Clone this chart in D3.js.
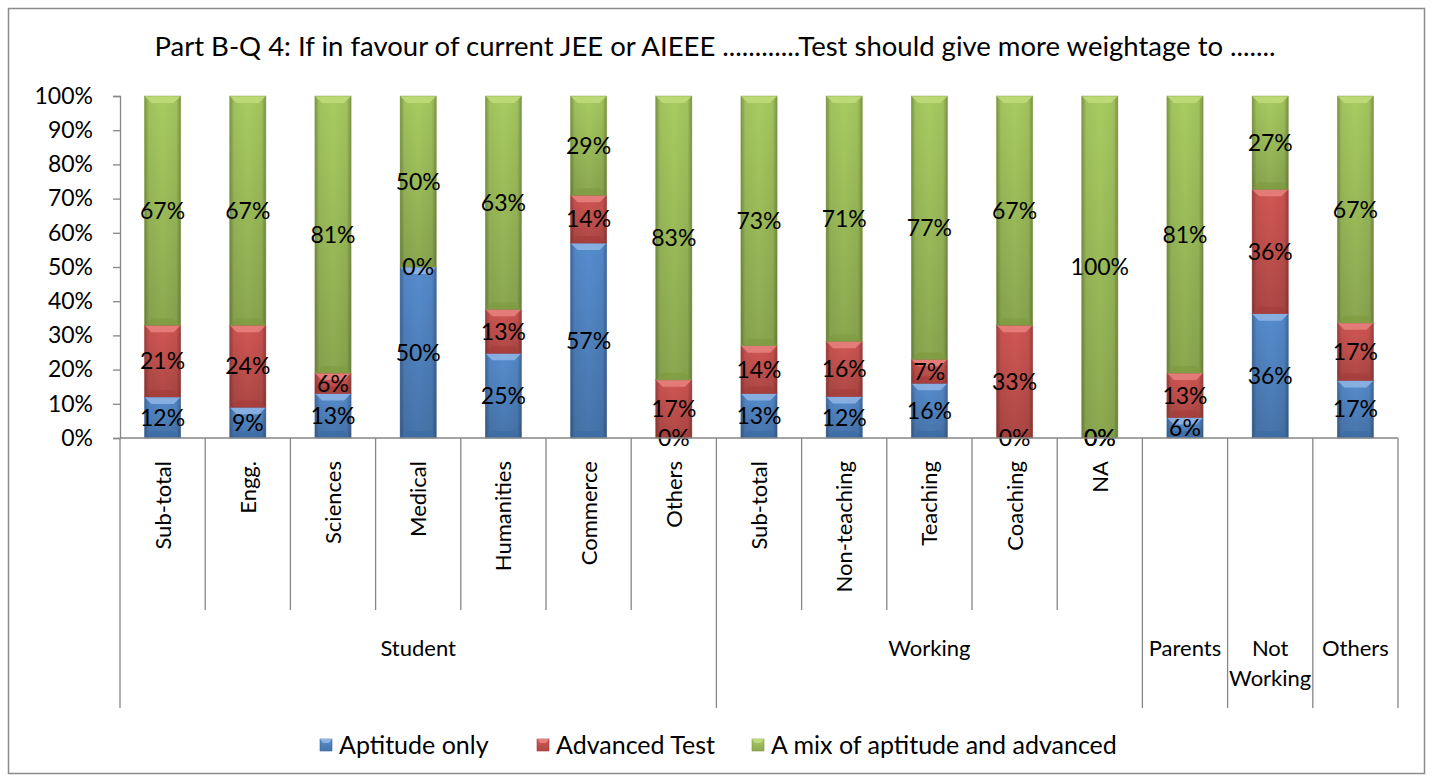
<!DOCTYPE html>
<html>
<head>
<meta charset="utf-8">
<script src="https://cdn.jsdelivr.net/npm/d3@7"></script>
<style>
  html, body { margin: 0; padding: 0; background: #fff; }
  svg { display: block; }
  text { font-family: Lato, "Open Sans", sans-serif; fill: #000; }
</style>
</head>
<body>
<svg id="chart" width="1433" height="782"></svg>
<script>
// Categories along the x axis (inner level) and their outer groups
const categories = ["Sub-total", "Engg.", "Sciences", "Medical", "Humanities", "Commerce", "Others",
                    "Sub-total", "Non-teaching", "Teaching", "Coaching", "NA",
                    "", "", ""];
const groupNames = ["Student", "Working", "Parents", "Not\nWorking", "Others"];
const groupSizes = [7, 5, 1, 1, 1];

// Series values (percent of respondents)
const seriesNames = ["Aptitude only", "Advanced Test", "A mix of aptitude and advanced"];
const aptitudeOnly = [12, 9, 13, 50, 25, 57, 0, 13, 12, 16, 0, 0, 6, 36, 17];
const advancedTest = [21, 24, 6, 0, 13, 14, 17, 14, 16, 7, 33, 0, 13, 36, 17];
const mixBoth      = [67, 67, 81, 50, 63, 29, 83, 73, 71, 77, 67, 100, 81, 27, 67];

// Value axis tick labels
const yTicks = [0, 0.1, 0.2, 0.3, 0.4, 0.5, 0.6, 0.7, 0.8, 0.9, 1.0];

const titleText = "Part B-Q 4: If in favour of current JEE or AIEEE ............Test should give more weightage to .......";

const colors = ["#4F81BD", "#C0504D", "#9BBB59"];
const lightColors = ["#8DB3E2", "#E57F7C", "#BFDA7A"];
const darkColors = ["#3A6AA5", "#A33B38", "#7D9A3E"];

const svg = d3.select("#chart");
const W = 1433, H = 782;

// outer frame
svg.append("rect").attr("x", 8.5).attr("y", 8.5).attr("width", W - 17).attr("height", H - 17)
  .attr("fill", "#fff").attr("stroke", "#8c8c8c").attr("stroke-width", 1.5);

// title
svg.append("text").attr("x", 715).attr("y", 56).attr("text-anchor", "middle")
  .style("font-size", "27.5px").text(titleText);

const rows = categories.map((c, i) => ({
  idx: i, cat: c, a: aptitudeOnly[i], b: advancedTest[i], c2: mixBoth[i]
}));

const x = d3.scaleBand().domain(d3.range(categories.length))
  .range([120, 1398]).paddingInner(0.575).paddingOuter(0.2875);
const y = d3.scaleLinear().domain([0, 1]).range([438, 96]);

const stack = d3.stack().keys(["a", "b", "c2"]).offset(d3.stackOffsetExpand);
const stacked = stack(rows);

// gradients
const defs = svg.append("defs");
colors.forEach((col, k) => {
  const gv = defs.append("linearGradient").attr("id", "gv" + k)
    .attr("x1", 0).attr("y1", 0).attr("x2", 0).attr("y2", 1);
  gv.append("stop").attr("offset", "0%").attr("stop-color", d3.color(col).brighter(0.25));
  gv.append("stop").attr("offset", "100%").attr("stop-color", d3.color(col).darker(0.3));
});
const gh = defs.append("linearGradient").attr("id", "gh")
  .attr("x1", 0).attr("y1", 0).attr("x2", 1).attr("y2", 0);
gh.append("stop").attr("offset", "0%").attr("stop-color", "#000").attr("stop-opacity", 0.28);
gh.append("stop").attr("offset", "12%").attr("stop-color", "#000").attr("stop-opacity", 0.05);
gh.append("stop").attr("offset", "50%").attr("stop-color", "#000").attr("stop-opacity", 0);
gh.append("stop").attr("offset", "88%").attr("stop-color", "#000").attr("stop-opacity", 0.05);
gh.append("stop").attr("offset", "100%").attr("stop-color", "#000").attr("stop-opacity", 0.28);

// bars
const bw = x.bandwidth();
stacked.forEach((layer, k) => {
  const g = svg.append("g").attr("class", "series-" + k);
  layer.forEach((d, i) => {
    const x0 = x(i), y0 = y(d[1]), y1 = y(d[0]);
    const h = y1 - y0;
    if (h <= 0.01) return;
    g.append("rect").attr("x", x0).attr("y", y0).attr("width", bw).attr("height", h)
      .attr("fill", `url(#gv${k})`);
    g.append("rect").attr("x", x0).attr("y", y0).attr("width", bw).attr("height", h)
      .attr("fill", "url(#gh)");
    const bev = Math.min(7, h / 2);
    // top bevel
    g.append("path")
      .attr("d", `M${x0},${y0}H${x0 + bw}L${x0 + bw - bev},${y0 + bev}H${x0 + bev}Z`)
      .attr("fill", lightColors[k]).attr("opacity", 0.9);
    // bottom bevel
    g.append("path")
      .attr("d", `M${x0},${y1}H${x0 + bw}L${x0 + bw - bev},${y1 - bev}H${x0 + bev}Z`)
      .attr("fill", darkColors[k]).attr("opacity", 0.6);
    // side edges
    g.append("rect").attr("x", x0).attr("y", y0).attr("width", bw).attr("height", h)
      .attr("fill", "none").attr("stroke", darkColors[k]).attr("stroke-width", 0.6).attr("stroke-opacity", 0.7);
  });
});

// value labels
const rawSeries = [aptitudeOnly, advancedTest, mixBoth];
stacked.forEach((layer, k) => {
  svg.append("g").selectAll("text").data(layer).join("text")
    .attr("x", (d, i) => x(i) + bw / 2)
    .attr("y", d => y((d[0] + d[1]) / 2))
    .attr("dy", "0.36em")
    .attr("text-anchor", "middle")
    .style("font-size", "23px")
    .text((d, i) => rawSeries[k][i] + "%");
});

// value axis
const axisColor = "#868686";
const yAxis = d3.axisLeft(y).tickValues(yTicks).tickFormat(d3.format(".0%"))
  .tickSize(7).tickPadding(20);
const ya = svg.append("g").attr("transform", "translate(120,0)").call(yAxis);
ya.select(".domain").attr("stroke", axisColor).attr("stroke-width", 1.3);
ya.selectAll(".tick line").attr("stroke", axisColor).attr("stroke-width", 1.3);
ya.selectAll(".tick text").style("font-size", "23px").attr("fill", "#000")
  .style("font-family", "Lato, 'Open Sans', sans-serif");

// category axis line
svg.append("line").attr("x1", 120).attr("x2", 1398).attr("y1", 438).attr("y2", 438)
  .attr("stroke", axisColor).attr("stroke-width", 1.3);

// category boundaries
const step = x.step();
const groupEdges = [0];
groupSizes.forEach(s => groupEdges.push(groupEdges[groupEdges.length - 1] + s));
d3.range(categories.length + 1).forEach(i => {
  const isGroupEdge = groupEdges.includes(i);
  const xx = 120 + i * step;
  svg.append("line").attr("x1", xx).attr("x2", xx).attr("y1", 438)
    .attr("y2", isGroupEdge ? 708 : 610)
    .attr("stroke", axisColor).attr("stroke-width", 1.3);
});

// inner category labels (rotated)
svg.append("g").selectAll("text").data(categories).join("text")
  .attr("transform", (d, i) => `translate(${x(i) + bw / 2},461) rotate(-90)`)
  .attr("text-anchor", "end")
  .attr("dy", "0.36em")
  .style("font-size", "22px")
  .text(d => d);

// group labels
groupNames.forEach((name, gi) => {
  const cx = 120 + (groupEdges[gi] + groupEdges[gi + 1]) / 2 * step;
  const lines = name.split("\n");
  const t = svg.append("text").attr("x", cx).attr("y", 656).attr("text-anchor", "middle")
    .style("font-size", "22px");
  lines.forEach((ln, li) => {
    t.append("tspan").attr("x", cx).attr("dy", li === 0 ? 0 : 30).text(ln);
  });
});

// legend
const legendX = [320, 537, 752];
seriesNames.forEach((name, k) => {
  const lg = svg.append("g").attr("transform", `translate(${legendX[k]},739)`);
  lg.append("rect").attr("width", 12).attr("height", 12).attr("fill", `url(#gv${k})`)
    .attr("stroke", darkColors[k]).attr("stroke-width", 0.6);
  lg.append("path").attr("d", "M0,0H12L9,4H3Z").attr("fill", lightColors[k]);
  lg.append("text").attr("x", 19).attr("y", 6).attr("dy", "0.36em")
    .style("font-size", "25px").text(name);
});
</script>
</body>
</html>
